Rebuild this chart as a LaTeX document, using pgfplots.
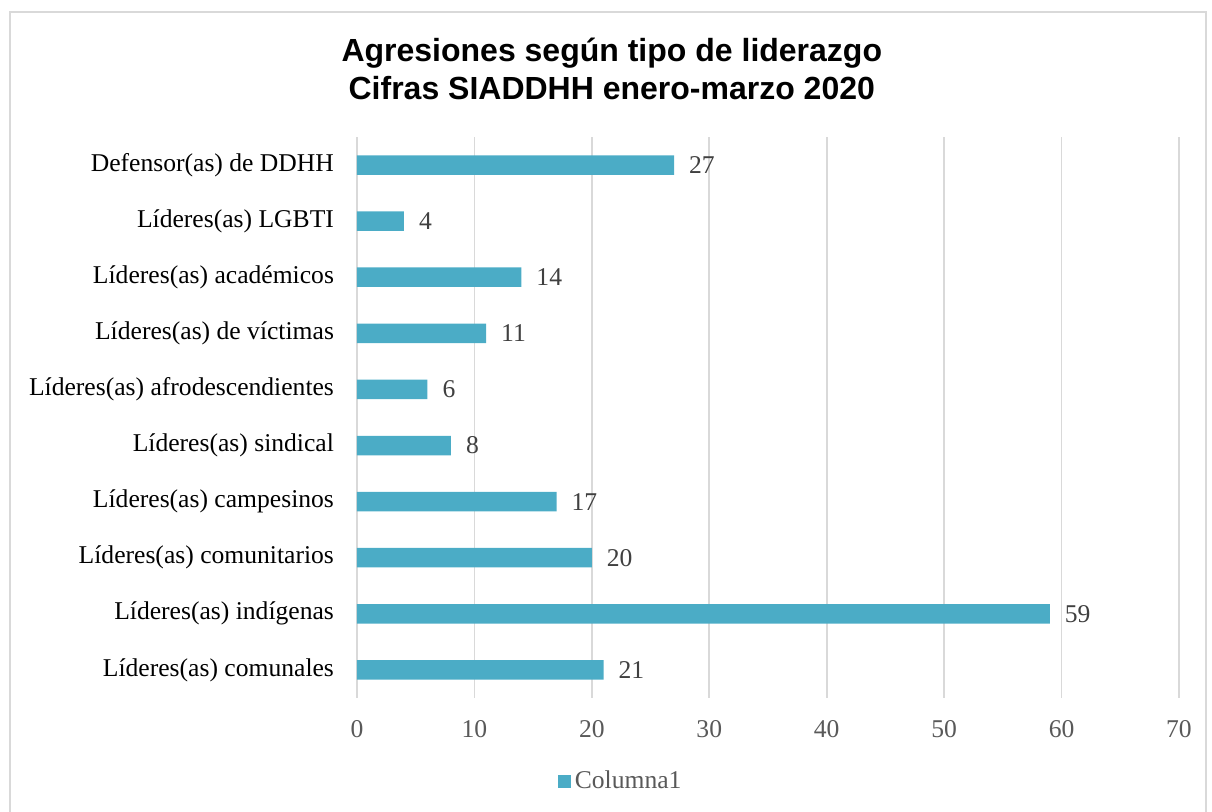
\documentclass[border=0pt]{standalone}
\usepackage{pgfplots}
\pgfplotsset{compat=1.18}
\usepackage{fontspec}
\setmainfont{Liberation Serif}
\newfontfamily\titlefont{Liberation Sans}
\definecolor{barc}{HTML}{4BACC6}
\definecolor{gridc}{HTML}{D9D9D9}
\definecolor{tickc}{HTML}{595959}
\definecolor{labc}{HTML}{404040}
\begin{document}
\begin{tikzpicture}
\useasboundingbox (-178.5pt,-57pt) rectangle (427.5pt,349pt);
\draw[gridc, line width=0.8pt] (-173.5pt,-70pt) -- (-173.5pt,343pt) -- (424.5pt,343pt) -- (424.5pt,-70pt);
\begin{axis}[
    scale only axis,
    width=411pt, height=280.5pt,
    xbar, bar width=9.75pt,
    xmin=0, xmax=70, ymin=-0.5, ymax=9.5,
    xtick={0,10,...,70},
    ytick={0,...,9},
    yticklabels={L\'ideres(as) comunales, L\'ideres(as) ind\'igenas, L\'ideres(as) comunitarios, L\'ideres(as) campesinos, L\'ideres(as) sindical, L\'ideres(as) afrodescendientes, L\'ideres(as) de v\'ictimas, L\'ideres(as) acad\'emicos, L\'ideres(as) LGBTI, Defensor(as) de DDHH},
    /pgf/number format/assume math mode=true,
    axis lines*=left,
    x axis line style={draw=none},
    y axis line style={gridc, line width=0.8pt},
    major tick length=0pt,
    xmajorgrids, grid style={gridc, line width=0.8pt},
    xticklabel style={font=\fontsize{12.8}{15}\selectfont, text=tickc, yshift=-7.5pt},
    yticklabel style={font=\fontsize{12.8}{15}\selectfont, text=black, xshift=-8pt},
    title={Agresiones seg\'un tipo de liderazgo\\Cifras SIADDHH enero-marzo 2020},
    title style={at={(0.31,1)}, anchor=south, yshift=9pt, align=center, font=\titlefont\bfseries\fontsize{16}{19}\selectfont},
    nodes near coords,
    nodes near coords style={font=\fontsize{12.8}{15}\selectfont, text=labc, anchor=west, xshift=4pt},
    legend style={at={(0.322,-0.148)}, anchor=center, draw=none, font=\fontsize{12.8}{15}\selectfont, text=tickc},
    legend image code/.code={\fill[barc] (0pt,-3.25pt) rectangle (6.5pt,3.25pt);},
]
\addplot[fill=barc, draw=none] coordinates {
    (21,0) (59,1) (20,2) (17,3) (8,4) (6,5) (11,6) (14,7) (4,8) (27,9)
};
\addlegendentry{Columna1}
\end{axis}
\end{tikzpicture}
\end{document}
